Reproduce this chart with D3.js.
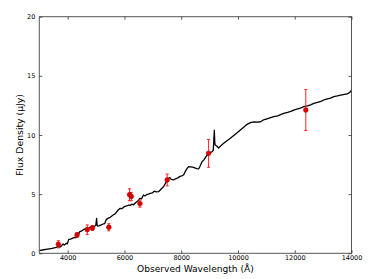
<!DOCTYPE html>
<html><head><meta charset="utf-8">
<script src="https://cdn.jsdelivr.net/npm/d3@7"></script>
<style>body{margin:0;background:#fff}svg{display:block}</style>
</head><body>
<script>
// spectrum (wavelength Å, flux μJy)
const specW = [3000,3150,3300,3450,3600,3660,3720,3780,3837,3880,3953,3990,4037,4100,4180,4250,4300,4341,4380,4426,4500,4578,4650,4720,4780,4836,4900,4955,4990,5020,5035,5060,5100,5180,5249,5300,5365,5420,5500,5601,5680,5778,5849,5920,6000,6080,6150,6201,6260,6320,6400,6480,6554,6600,6671,6720,6780,6850,6907,6980,7050,7120,7200,7260,7320,7377,7440,7500,7553,7600,7650,7730,7800,7860,7906,7960,8020,8083,8140,8200,8260,8330,8400,8436,8500,8560,8613,8650,8690,8732,8800,8880,8966,9030,9085,9130,9166,9185,9201,9260,9318,9400,9495,9600,9731,9850,9950,10084,10200,10320,10437,10560,10680,10790,10880,10966,11100,11260,11400,11500,11613,11750,11860,11966,12100,12200,12319,12450,12560,12672,12800,12920,13025,13150,13260,13378,13500,13620,13750,13850,13950,14000];
const specF = [0.22,0.3,0.36,0.42,0.5,0.56,0.52,0.62,0.79,0.7,0.85,0.8,1.18,1.2,1.28,1.35,1.32,1.57,1.6,1.83,1.9,2.03,2.1,2.06,2.2,2.25,2.22,2.31,2.35,2.95,2.4,2.3,2.32,2.4,2.48,2.5,2.87,2.95,3.05,3.24,3.35,3.66,3.8,3.78,3.95,4.0,4.08,4.05,4.15,4.1,4.3,4.45,4.65,4.6,4.93,4.85,4.95,5.0,5.07,5.1,5.25,5.2,5.21,5.35,5.5,5.63,5.9,6.1,6.34,6.4,6.25,6.2,6.3,6.35,6.42,6.5,6.55,6.62,6.9,7.15,7.32,7.3,7.28,7.27,7.2,7.15,7.13,7.3,7.5,7.74,7.9,8.2,8.45,8.5,8.59,8.7,10.4,9.3,9.15,9.05,8.9,9.1,9.3,9.5,9.72,9.95,10.15,10.42,10.65,10.9,11.04,11.1,11.08,11.12,11.25,11.33,11.42,11.55,11.62,11.72,11.83,11.92,12.0,12.11,12.2,12.28,12.39,12.46,12.55,12.68,12.75,12.85,12.96,13.05,13.12,13.24,13.3,13.38,13.44,13.47,13.62,13.8];
// photometry
const photW = [3670,4330,4690,4870,5450,6180,6240,6545,7505,8965,12390];
const photF = [0.76,1.55,2.0,2.14,2.2,4.95,4.8,4.2,6.2,8.45,12.11];
const photE = [0.3,0.2,0.4,0.2,0.3,0.5,0.35,0.3,0.5,1.18,1.73];
const xTicks = [4000,6000,8000,10000,12000,14000];
const yTicks = [0,5,10,15,20];

const W=375,H=279;
const m={l:39.3,r:23.5,t:16.7,b:25.7};
const svg=d3.select("body").append("svg").attr("width",W).attr("height",H);
const x=d3.scaleLinear().domain([3000,14000]).range([m.l,W-m.r]);
const y=d3.scaleLinear().domain([0,20]).range([H-m.b,m.t]);
const font="DejaVu Sans, sans-serif";

const g=svg.append("g");
const pts=specW.map((w,i)=>[w,specF[i]]);
g.append("path").datum(pts)
 .attr("d",d3.line().x(d=>x(d[0])).y(d=>y(d[1])))
 .attr("fill","none").attr("stroke","#000").attr("stroke-width",1.3).attr("stroke-linejoin","round");
const ph=photW.map((w,i)=>({w,f:photF[i],e:photE[i]}));
const eb=g.append("g").attr("stroke","#ff2020").attr("stroke-width",1);
eb.selectAll(".v").data(ph).join("line")
 .attr("x1",d=>x(d.w)).attr("x2",d=>x(d.w)).attr("y1",d=>y(d.f-d.e)).attr("y2",d=>y(d.f+d.e));
eb.selectAll(".c1").data(ph).join("line")
 .attr("x1",d=>x(d.w)-1.5).attr("x2",d=>x(d.w)+1.5).attr("y1",d=>y(d.f-d.e)).attr("y2",d=>y(d.f-d.e));
eb.selectAll(".c2").data(ph).join("line")
 .attr("x1",d=>x(d.w)-1.5).attr("x2",d=>x(d.w)+1.5).attr("y1",d=>y(d.f+d.e)).attr("y2",d=>y(d.f+d.e));
g.selectAll("circle").data(ph).join("circle")
 .attr("cx",d=>x(d.w)).attr("cy",d=>y(d.f)).attr("r",2.4)
 .attr("fill","#e00000").attr("stroke","#a00000").attr("stroke-width",0.5);

svg.append("rect").attr("x",m.l).attr("y",m.t).attr("width",W-m.r-m.l).attr("height",H-m.b-m.t)
 .attr("fill","none").attr("stroke","#555").attr("stroke-width",1);

const xb=svg.append("g").attr("transform",`translate(0,${H-m.b})`)
 .call(d3.axisBottom(x).tickValues(xTicks).tickSize(-3).tickPadding(2.5).tickFormat(d3.format("d")));
const xt=svg.append("g").attr("transform",`translate(0,${m.t})`)
 .call(d3.axisTop(x).tickValues(xTicks).tickSize(-3).tickFormat(""));
const yl=svg.append("g").attr("transform",`translate(${m.l},0)`)
 .call(d3.axisLeft(y).tickValues(yTicks).tickSize(-3).tickPadding(4).tickFormat(d3.format("d")));
const yr=svg.append("g").attr("transform",`translate(${W-m.r},0)`)
 .call(d3.axisRight(y).tickValues(yTicks).tickSize(-3).tickFormat(""));
[xb,xt,yl,yr].forEach(a=>{a.select(".domain").remove();
 a.selectAll("line").attr("stroke","#333").attr("stroke-width",0.8);
 a.selectAll("text").attr("font-family",font).attr("font-size",6.5).attr("fill","#000");});

svg.append("text").attr("x",(m.l+W-m.r)/2).attr("y",272).attr("text-anchor","middle")
 .attr("font-family",font).attr("font-size",9.1).text("Observed Wavelength (Å)");
svg.append("text").attr("transform",`translate(23,${(m.t+H-m.b)/2}) rotate(-90)`).attr("text-anchor","middle")
 .attr("font-family",font).attr("font-size",9.3).text("Flux Density (μJy)");
</script>
</body></html>
